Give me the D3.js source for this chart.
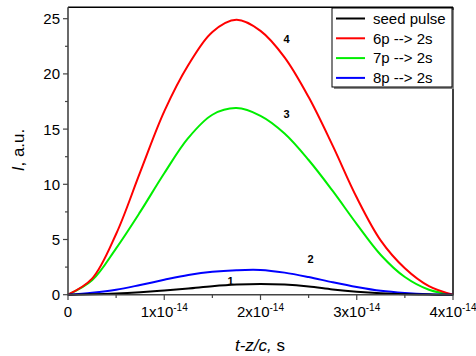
<!DOCTYPE html>
<html><head><meta charset="utf-8">
<script src="https://cdn.jsdelivr.net/npm/d3@7"></script>
<style>body{margin:0;background:#fff}svg{display:block;font-family:Arial,"Liberation Sans",sans-serif}</style>
</head><body>
<svg id="c" width="476" height="356"></svg>
<script>
// time in units of 1e-14 s
const tValues = [0,0.25,0.5,0.75,1.0,1.25,1.5,1.75,2.0,2.25,2.5,2.75,3.0,3.25,3.5,3.75,4.0];
const seedPulse = [0,0.03,0.1,0.22,0.38,0.56,0.77,0.92,0.98,0.92,0.75,0.48,0.27,0.13,0.05,0.01,0];
const p6to2s   = [0,1.45,5.5,11.1,16.6,20.8,23.8,24.9,23.9,21.5,17.9,13.5,8.8,4.9,2.4,0.78,0];
const p7to2s   = [0,1.3,4.2,7.5,11.0,14.2,16.3,16.9,16.2,14.6,12.2,9.4,6.4,3.6,1.6,0.45,0];
const p8to2s   = [0,0.18,0.45,0.88,1.35,1.78,2.08,2.22,2.24,2.0,1.6,1.13,0.7,0.35,0.15,0.04,0];
const seriesNames = ["seed pulse","6p --> 2s","7p --> 2s","8p --> 2s"];
const seriesColors = ["#000000","#ff0000","#00ee00","#0000ff"];
const xTicks = [0,1,2,3,4];
const yTicks = [0,5,10,15,20,25];
const curveLabels = ["1","2","3","4"];
const labelPos = [[1.69,0.9],[2.52,2.9],[2.27,16.0],[2.27,22.8]]; // data coords [t, I]

const svg = d3.select("#c");
const x = d3.scaleLinear().domain([0,4]).range([68,453]);
const y = d3.scaleLinear().domain([0,25]).range([294.7,18.7]);
const yTop = 7.3;

// frame top/right
svg.append("line").attr("x1",68).attr("x2",453).attr("y1",yTop).attr("y2",yTop).attr("stroke","#000").attr("stroke-width",1.5);
svg.append("line").attr("x1",453).attr("x2",453).attr("y1",yTop).attr("y2",294.7).attr("stroke","#000").attr("stroke-width",1.5);

// curves
const series = [seedPulse,p6to2s,p7to2s,p8to2s];
const line = d3.line().x((d,i)=>x(tValues[i])).y(d=>y(Math.max(0,d))).curve(d3.curveCatmullRom.alpha(0.5));
[2,1,3,0].forEach(k=>{
  svg.append("path").attr("d",line(series[k])).attr("fill","none").attr("stroke",seriesColors[k]).attr("stroke-width",2);
});

// axes
const ax = svg.append("g");
// y axis
ax.append("line").attr("x1",68).attr("x2",68).attr("y1",yTop).attr("y2",295).attr("stroke","#444").attr("stroke-width",1.6);
d3.range(0,25.1,2.5).forEach(v=>{
  const major = v%5===0;
  ax.append("line").attr("x1",68).attr("x2",major?63:65).attr("y1",y(v)).attr("y2",y(v)).attr("stroke","#444").attr("stroke-width",1.2);
});
yTicks.forEach(v=>{
  ax.append("text").attr("x",60).attr("y",y(v)).attr("dy","0.36em").attr("text-anchor","end").attr("font-size",15).text(v);
});
// x axis
ax.append("line").attr("x1",67).attr("x2",454).attr("y1",294.7).attr("y2",294.7).attr("stroke","#444").attr("stroke-width",1.6);
d3.range(0,4.01,0.5).forEach(v=>{
  const major = Math.abs(v-Math.round(v))<1e-9;
  ax.append("line").attr("x1",x(v)).attr("x2",x(v)).attr("y1",294.7).attr("y2",major?300:298).attr("stroke","#444").attr("stroke-width",1.2);
});
xTicks.forEach(v=>{
  const t = ax.append("text").attr("x",x(v)).attr("y",317).attr("text-anchor","middle").attr("font-size",15);
  if(v===0){t.text("0");}
  else{
    t.append("tspan").text(v+"x10");
    t.append("tspan").attr("dy",-6).attr("font-size",10).text("-14");
  }
});

// axis titles
const yt = svg.append("text").attr("transform","translate(24,150) rotate(-90)").attr("text-anchor","middle").attr("font-size",17);
yt.append("tspan").attr("font-style","italic").text("I");
yt.append("tspan").text(", a.u.");
const xt = svg.append("text").attr("x",260).attr("y",351).attr("text-anchor","middle").attr("font-size",17);
xt.append("tspan").attr("font-style","italic").text("t-z/c,");
xt.append("tspan").text(" s");

// curve labels
curveLabels.forEach((s,i)=>{
  svg.append("text").attr("x",x(labelPos[i][0])).attr("y",y(labelPos[i][1])).attr("text-anchor","middle")
    .attr("font-size",11).attr("font-weight","bold").text(s);
});

// legend
const lg = svg.append("g");
lg.append("rect").attr("x",334).attr("y",10).attr("width",120).attr("height",79).attr("fill","#888");
lg.append("rect").attr("x",332).attr("y",8).attr("width",120).attr("height",79).attr("fill","#fff").attr("stroke","#000").attr("stroke-width",1);
seriesNames.forEach((n,i)=>{
  const cy = 18.5 + i*19.8;
  lg.append("line").attr("x1",336).attr("x2",365).attr("y1",cy).attr("y2",cy).attr("stroke",seriesColors[i]).attr("stroke-width",2);
  lg.append("text").attr("x",373).attr("y",cy).attr("dy","0.35em").attr("font-size",15).text(n);
});
</script>
</body></html>
